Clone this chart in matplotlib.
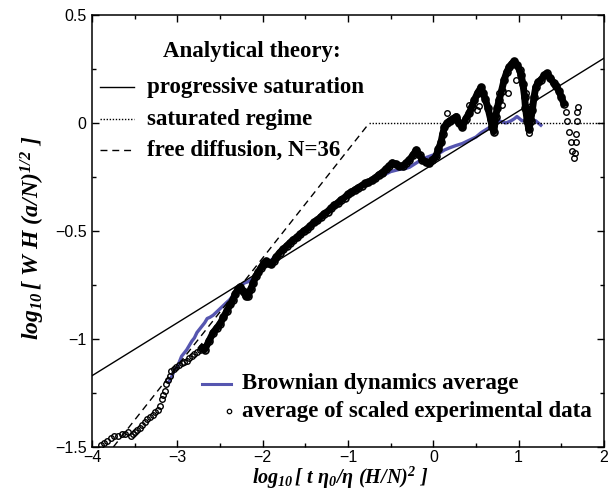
import matplotlib
matplotlib.use("Agg")
import matplotlib.pyplot as plt
from matplotlib.lines import Line2D

# ---------------- data ----------------
# average of scaled experimental data (x = log10 scaled time, y = log10 scaled width)
exp_x_start = [-3.90, -3.86, -3.82, -3.78, -3.74, -3.70, -3.65, -3.61, -3.58,
               -3.54, -3.52, -3.50, -3.47, -3.44, -3.41, -3.38, -3.35, -3.32,
               -3.29, -3.26, -3.23, -3.20, -3.18, -3.17, -3.15, -3.13, -3.11,
               -3.09, -3.07, -3.04, -3.01, -2.98, -2.95, -2.92, -2.89, -2.86,
               -2.83, -2.80, -2.77, -2.74]
exp_y_start = [-1.49, -1.48, -1.47, -1.46, -1.45, -1.45, -1.44, -1.44, -1.43,
               -1.45, -1.44, -1.43, -1.42, -1.41, -1.40, -1.385, -1.37, -1.36,
               -1.35, -1.34, -1.33, -1.31, -1.28, -1.26, -1.24, -1.21, -1.19,
               -1.17, -1.15, -1.14, -1.13, -1.12, -1.11, -1.105, -1.10, -1.09,
               -1.08, -1.07, -1.06, -1.05]

exp_x_dense = [-2.71, -2.68, -2.63, -2.58, -2.54, -2.50, -2.46, -2.42, -2.38, -2.35,
               -2.32, -2.29, -2.26, -2.23, -2.20, -2.17, -2.14, -2.11, -2.08, -2.05,
               -2.02, -1.99, -1.96, -1.93, -1.90, -1.87, -1.84, -1.80, -1.76, -1.72,
               -1.68, -1.64, -1.60, -1.56, -1.52, -1.48, -1.44, -1.40, -1.36, -1.32,
               -1.28, -1.24, -1.20, -1.16, -1.12, -1.08, -1.04, -1.00, -0.96, -0.92,
               -0.88, -0.84, -0.80, -0.76, -0.72, -0.68, -0.64, -0.60, -0.56, -0.52,
               -0.48, -0.44, -0.40, -0.36, -0.32, -0.28, -0.24, -0.20, -0.16, -0.13,
               -0.09, -0.05, -0.01, 0.03, 0.06, 0.09, 0.11, 0.13, 0.16, 0.19,
               0.23, 0.27, 0.30, 0.34, 0.38, 0.42, 0.45, 0.48, 0.52, 0.56,
               0.58, 0.61, 0.64, 0.67, 0.69, 0.71, 0.73, 0.75, 0.77, 0.80,
               0.83, 0.86, 0.89, 0.92, 0.95, 0.98, 1.01, 1.03, 1.05, 1.07,
               1.08, 1.10, 1.12, 1.14, 1.16, 1.18, 1.20, 1.23, 1.26, 1.30,
               1.33, 1.37, 1.41, 1.44, 1.47, 1.50, 1.53]
exp_y_dense = [-1.04, -1.05, -1.01, -0.97, -0.95, -0.93, -0.90, -0.87, -0.84, -0.82,
               -0.79, -0.77, -0.76, -0.78, -0.80, -0.80, -0.77, -0.74, -0.71, -0.69,
               -0.67, -0.65, -0.64, -0.65, -0.655, -0.64, -0.62, -0.60, -0.585, -0.57,
               -0.555, -0.54, -0.53, -0.515, -0.50, -0.49, -0.475, -0.46, -0.45, -0.435,
               -0.42, -0.41, -0.395, -0.38, -0.37, -0.355, -0.345, -0.33, -0.32, -0.31,
               -0.30, -0.29, -0.28, -0.275, -0.265, -0.255, -0.24, -0.23, -0.215, -0.20,
               -0.185, -0.19, -0.20, -0.20, -0.185, -0.17, -0.15, -0.125, -0.15, -0.17,
               -0.18, -0.185, -0.17, -0.155, -0.12, -0.09, -0.05, -0.02, 0.0, 0.01,
               0.02, 0.03, 0.0, -0.02, 0.02, 0.045, 0.075, 0.105, 0.14, 0.165,
               0.14, 0.11, 0.07, 0.02, -0.02, -0.04, 0.03, 0.07, 0.105, 0.15,
               0.20, 0.235, 0.26, 0.275, 0.285, 0.27, 0.245, 0.22, 0.18, 0.12,
               0.07, 0.01, -0.03, 0.01, 0.06, 0.12, 0.165, 0.19, 0.20, 0.22,
               0.23, 0.21, 0.185, 0.17, 0.15, 0.12, 0.09]

exp_x_end = [1.55, 1.57, 1.59, 1.61, 1.63, 1.65, 1.66, 1.67, 1.675, 1.68, 1.685, 1.69]
exp_y_end = [0.05, 0.01, -0.04, -0.09, -0.13, -0.16, -0.14, -0.09, -0.05, 0.01, 0.05, 0.075]

exp_x_scatter = [0.16, 0.42, 0.51, 0.54, 0.77, 0.81, 0.87, 0.97, 1.09, 1.10, 1.12, -0.59]
exp_y_scatter = [0.045, 0.083, 0.06, 0.08, 0.14, 0.085, 0.14, 0.20, 0.14, 0.07, -0.045, -0.23]

# Brownian dynamics average
bd_x = [-3.10, -3.06, -3.03, -3.00, -2.97, -2.95, -2.92, -2.89, -2.86, -2.83,
        -2.80, -2.77, -2.74, -2.71, -2.68, -2.65, -2.62, -2.58, -2.54, -2.50,
        -2.46, -2.42, -2.39, -2.35, -2.32, -2.29, -2.25, -2.21, -2.17, -2.13,
        -2.09, -2.05, -2.00, -1.90, -1.80, -1.70, -1.60, -1.50, -1.40, -1.30,
        -1.20, -1.10, -1.00, -0.90, -0.80, -0.70, -0.60, -0.50, -0.40, -0.32,
        -0.28, -0.20, -0.12, -0.05, 0.02, 0.07, 0.13, 0.19, 0.26, 0.34,
        0.42, 0.50, 0.56, 0.62, 0.66, 0.69, 0.73, 0.77, 0.81, 0.85,
        0.88, 0.91, 0.95, 0.98, 1.01, 1.04, 1.08, 1.12, 1.16, 1.20,
        1.23, 1.26]
bd_y = [-1.20, -1.17, -1.14, -1.13, -1.10, -1.08, -1.065, -1.05, -1.03, -1.01,
        -0.995, -0.97, -0.955, -0.94, -0.925, -0.905, -0.90, -0.89, -0.875, -0.86,
        -0.845, -0.83, -0.82, -0.80, -0.78, -0.765, -0.75, -0.74, -0.735, -0.725,
        -0.71, -0.69, -0.665, -0.635, -0.60, -0.565, -0.53, -0.50, -0.465, -0.435,
        -0.40, -0.37, -0.34, -0.31, -0.285, -0.265, -0.245, -0.225, -0.215, -0.21,
        -0.205, -0.185, -0.165, -0.155, -0.145, -0.14, -0.125, -0.115, -0.105, -0.095,
        -0.08, -0.065, -0.045, -0.03, -0.02, -0.01, 0.0, 0.01, 0.005, 0.0,
        0.005, 0.01, 0.02, 0.03, 0.02, 0.01, 0.015, 0.02, 0.015, 0.01,
        0.0, -0.01]

# analytical theory lines
prog_x = [-4.0, 2.0]
prog_y = [-1.17, 0.30]
free_x = [-3.75, -0.75]
free_y = [-1.5, 0.0]
sat_x = [-0.75, 2.0]
sat_y = [0.0, 0.0]

xticks = [-4, -3, -2, -1, 0, 1, 2]
yticks = [-1.5, -1, -0.5, 0, 0.5]
xtick_labels = ["\u22124", "\u22123", "\u22122", "\u22121", "0", "1", "2"]
ytick_labels = ["\u22121.5", "\u22121", "\u22120.5", "0", "0.5"]

# ---------------- figure ----------------
W, H = 611, 491
plt.rcParams['mathtext.fontset'] = 'custom'
plt.rcParams['mathtext.rm'] = 'Liberation Serif:italic:bold'
plt.rcParams['mathtext.it'] = 'Liberation Serif:italic:bold'
plt.rcParams['mathtext.bf'] = 'Liberation Serif:italic:bold'

fig = plt.figure(figsize=(W / 100, H / 100), dpi=100)
L, R, T, B = 92, 604, 15, 447
ax = fig.add_axes([L / W, 1 - B / H, (R - L) / W, (B - T) / H])
ax.set_xlim(-4, 2)
ax.set_ylim(-1.5, 0.5)

def fx(px):
    return px / W

def fy(py):
    return 1 - py / H

BLUE = '#5656b0'

ax.plot(bd_x, bd_y, color=BLUE, lw=2.4, zorder=2)
ax.plot(exp_x_dense, exp_y_dense, color='black', lw=5.0, zorder=3)
mk = dict(ls='none', marker='o', ms=4.0, mfc='none', mec='black', mew=1.0, zorder=4)
ax.plot(exp_x_start, exp_y_start, **mk)
ax.plot(exp_x_dense, exp_y_dense, **dict(mk, ms=5.0, mew=1.2))
ax.plot(exp_x_end, exp_y_end, **mk)
ax.plot(exp_x_scatter, exp_y_scatter, **mk)

ax.plot(prog_x, prog_y, color='black', lw=1.0, zorder=5)
ax.plot(sat_x, sat_y, color='black', lw=1.0, ls=(0, (1, 1.2)), zorder=5)
ax.plot(free_x, free_y, color='black', lw=1.0, ls=(0, (5, 3.5)), zorder=5)

ax.set_xticks(xticks)
ax.set_xticklabels(xtick_labels)
ax.set_yticks(yticks)
ax.set_yticklabels(ytick_labels)
ax.set_xticks([-3.5, -2.5, -1.5, -0.5, 0.5, 1.5], minor=True)
ax.set_yticks([-1.25, -0.75, -0.25, 0.25], minor=True)
ax.tick_params(which='both', direction='in', top=True, right=True,
               labelsize=11.5, width=1.0, pad=4)
ax.tick_params(axis='x', which='both', pad=2)
ax.tick_params(which='major', length=5)
ax.tick_params(which='minor', length=2.8)
for lab in ax.get_xticklabels() + ax.get_yticklabels():
    lab.set_fontfamily('Liberation Sans')
for s in ax.spines.values():
    s.set_linewidth(1.1)

fig.text(fx(340), fy(484), r'$log_{10}\,[\ t\ \eta_0/\eta\ (H/N)^2\ ]$', fontsize=14.5,
         ha='center', va='baseline')
fig.text(fx(33), fy(238), r'$log_{10}\,[\ W\ H\ (a/N)^{1/2}\ ]$', fontsize=17,
         ha='center', va='center', rotation=90)

serif = dict(fontfamily='Liberation Serif', fontweight='bold', fontsize=16.5,
             va='center')
fig.text(fx(252), fy(52), 'Analytical theory:', ha='center', **serif)
rows = [(87, 'progressive saturation', '-'),
        (119, 'saturated regime', (0, (1, 1.2))),
        (150, 'free diffusion, N=36', (0, (5, 3.5)))]
for py, txt, ls in rows:
    fig.text(fx(147), fy(py), txt, ha='left', **serif)
    fig.add_artist(Line2D([fx(100), fx(134)], [fy(py), fy(py)], color='black',
                          lw=1.0, ls=ls))

fig.text(fx(242), fy(384), 'Brownian dynamics average', ha='left', **serif)
fig.add_artist(Line2D([fx(202), fx(231)], [fy(384), fy(384)], color=BLUE, lw=2.2))
fig.text(fx(242), fy(411), 'average of scaled experimental data', ha='left', **serif)
fig.add_artist(Line2D([fx(229)], [fy(411)], ls='none', marker='o', ms=3.2,
                      mfc='none', mec='black', mew=0.9))

fig.savefig('out.png', dpi=100)
